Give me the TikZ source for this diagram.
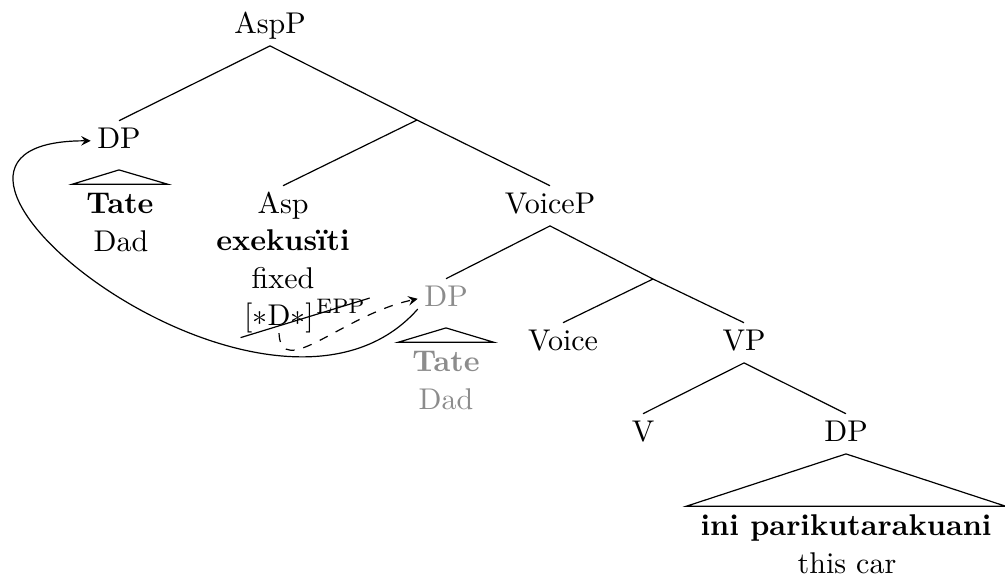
\documentclass[tikz,border=0pt]{standalone}
\usepackage{amsmath}
\usepackage{amssymb}

\definecolor{movedgray}{gray}{0.55}

\begin{document}
\begin{tikzpicture}[x=0.3333pt, y=-0.3333pt,
		cat/.style={anchor=base, text height=8.4pt, text depth=3.6pt, inner xsep=2pt, inner ysep=0.5pt},
		leaf/.style={anchor=base, text height=6.9pt, inner xsep=4.5pt, inner ysep=2.5pt},
		gloss/.style={anchor=base, inner sep=0pt},
		lowcopy/.style={text=movedgray}]
	\useasboundingbox (0,0) rectangle (1005,579);

		\node[cat] (aspp) at (270,33) {AspP};
		\node[cat] (dpa) at (119,148) {DP};
		\coordinate (aspbar) at (417,120);
		\node[cat] (asp) at (283,213) {Asp};
		\node[gloss] (aspverb) at (283,250) {\textbf{exekusïti}};
		\node[gloss] (aspgl) at (283,288) {fixed};
		\node[gloss] (featd) at (279,325) {$[{\ast}\mathrm{D}{\ast}]$};
		\node[anchor=base west, inner sep=0pt] (epp) at ([shift={(0.4pt,4pt)}]featd.base east) {$\scriptstyle\mathrm{EPP}$};
		\node[cat] (voicep) at (550,213) {VoiceP};
		\node[cat, lowcopy] (gdp) at (446,306) {DP};
		\coordinate (voicebar) at (653,279);
		\node[cat] (voice) at (563,350) {Voice};
		\node[cat] (vp) at (744,350) {VP};
		\node[cat] (v) at (643,441) {V};
		\node[cat] (dpc) at (846,441) {DP};

		\node[leaf] (tatea) at (120,213) {\textbf{Tate}};
		\node[gloss] (dada) at (121,251) {Dad};
		\node[leaf, lowcopy] (tateb) at (446,371) {\textbf{Tate}};
		\node[gloss, lowcopy] (dadb) at (446,409) {Dad};
		\node[leaf] (car) at (846,535) {\textbf{ini parikutarakuani}};
		\node[gloss] (cargl) at (847,573) {this car};

		\draw (aspp.south) -- (dpa.north);
		\draw (aspp.south) -- (aspbar) -- (voicep.north);
		\draw (aspbar) -- (asp.north);
		\draw (voicep.south) -- (gdp.north);
		\draw (voicep.south) -- (voicebar) -- (vp.north);
		\draw (voicebar) -- (voice.north);
		\draw (vp.south) -- (v.north);
		\draw (vp.south) -- (dpc.north);

		\draw ([yshift=-3pt]dpa.south) -- (tatea.north west) -- (tatea.north east) -- cycle;
		\draw ([yshift=-3pt]gdp.south) -- (tateb.north west) -- (tateb.north east) -- cycle;
		\draw (dpc.south) -- (car.north west) -- (car.north east) -- cycle;

		\draw ([shift={(-1pt,-1.5pt)}]featd.south west) -- ([xshift=1.5pt]epp.north east);
		\draw[-stealth, dashed] (featd.south) .. controls +(2,48) and +(-75,16) .. (gdp.west);
		\draw[-stealth] (gdp.200) .. controls +(-150,170) and +(-245,0) .. (dpa.west);
	\end{tikzpicture}
\end{document}
